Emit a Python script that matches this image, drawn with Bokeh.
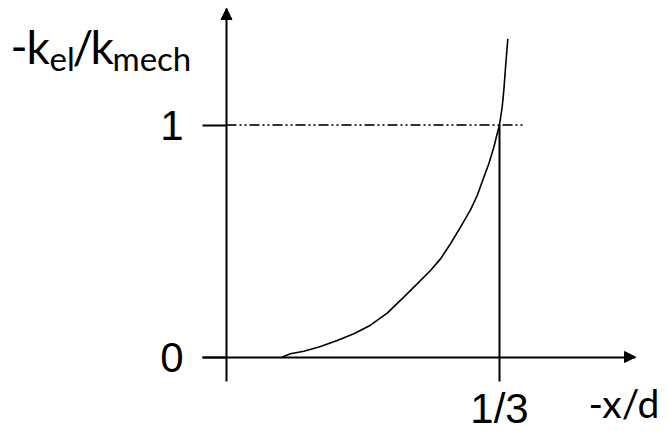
from bokeh.plotting import figure
from bokeh.models import (Range1d, LinearAxis, FixedTicker, Label, Arrow,
                          NormalHead, ColumnDataSource)
from bokeh.embed import file_html
from bokeh.resources import INLINE

# Normalised displacement -x/d and stiffness ratio -k_el/k_mech along the curve
x_over_d = [0.0680, 0.0781, 0.0944, 0.1148, 0.1351, 0.1555, 0.1758, 0.1962,
            0.2165, 0.2328, 0.2491, 0.2613, 0.2735, 0.2857, 0.2979, 0.3061,
            0.3142, 0.3203, 0.3264, 0.3305, 1 / 3, 0.3366, 0.3386, 0.3407,
            0.3435]
k_ratio = [0.0, 0.0137, 0.0251, 0.0453, 0.0711, 0.0999, 0.137, 0.189,
           0.258, 0.315, 0.373, 0.423, 0.488, 0.560, 0.634, 0.696,
           0.775, 0.833, 0.904, 0.962, 1.0, 1.077, 1.149, 1.249,
           1.371]

# Tick positions and their labels
x_ticks = [0, 1 / 3]
x_tick_labels = ["", "1/3"]
y_ticks = [0, 1]
y_tick_labels = ["0", "1"]

# Pull-in point: stiffness ratio reaches 1 at -x/d = 1/3
pull_in_x = 1 / 3
pull_in_y = 1.0

W, H = 667, 431
p = figure(width=W, height=H,
           x_range=Range1d(-0.27595, 0.53846),
           y_range=Range1d(-0.32112, 1.53664),
           x_axis_type=None, y_axis_type=None,
           output_backend="svg", toolbar_location=None,
           min_border=0, outline_line_color=None,
           background_fill_color="white", border_fill_color="white")

x_tip = 0.4994
y_tip = 1.5022

xaxis = LinearAxis(fixed_location=0,
                   ticker=FixedTicker(ticks=x_ticks, minor_ticks=[]),
                   major_label_overrides=dict(zip(x_ticks, x_tick_labels)),
                   bounds=(-0.0293, x_tip),
                   axis_line_width=2, axis_line_color="black",
                   major_tick_line_width=2, major_tick_line_color="black",
                   major_tick_in=0, major_tick_out=24,
                   minor_tick_in=0, minor_tick_out=0,
                   major_label_text_font="Liberation Sans",
                   major_label_text_font_size="42px",
                   major_label_text_color="black",
                   major_label_standoff=4)
p.add_layout(xaxis, "below")

yaxis = LinearAxis(fixed_location=0,
                   ticker=FixedTicker(ticks=y_ticks, minor_ticks=[]),
                   major_label_overrides=dict(zip(y_ticks, y_tick_labels)),
                   bounds=(0, y_tip),
                   axis_line_width=2, axis_line_color="black",
                   major_tick_line_width=2, major_tick_line_color="black",
                   major_tick_in=0, major_tick_out=24,
                   minor_tick_in=0, minor_tick_out=0,
                   major_label_text_font="Liberation Sans",
                   major_label_text_font_size="42px",
                   major_label_text_color="black",
                   major_label_standoff=19)
p.add_layout(yaxis, "left")

# Arrow heads at the axis ends
p.add_layout(Arrow(end=NormalHead(size=11, fill_color="black", line_color="black"),
                   x_start=x_tip - 0.01, y_start=0, x_end=x_tip, y_end=0,
                   line_width=2, line_color="black"))
p.add_layout(Arrow(end=NormalHead(size=11, fill_color="black", line_color="black"),
                   x_start=0, y_start=y_tip - 0.04, x_end=0, y_end=y_tip,
                   line_width=2, line_color="black"))

# Threshold line at ratio 1 and the marker at -x/d = 1/3
p.line(x=[0, 0.3614], y=[pull_in_y, pull_in_y], line_color="#333333",
       line_width=2, line_dash="10 3 2 3 2 3")
p.line(x=[pull_in_x, pull_in_x], y=[0, pull_in_y], line_color="black",
       line_width=2)

# Stiffness ratio curve
src = ColumnDataSource(dict(x=x_over_d, y=k_ratio))
p.line("x", "y", source=src, line_color="black", line_width=1.6)

# Axis titles, built from pieces so the subscripts sit lower and smaller
title_font = "Lato"
MAIN, SUB = 46, 33


def place(txt, x, baseline_from_top, size):
    # the label anchor sits about 0.387 em above the glyph baseline
    y = H - (baseline_from_top - 0.387 * size)
    p.add_layout(Label(x=x, y=y, x_units="screen", y_units="screen",
                       text=txt, text_font=title_font,
                       text_font_size=f"{size}px", text_color="black",
                       text_baseline="alphabetic", text_align="left"))


place("-", 10, 64, MAIN)
place("k", 26, 64, MAIN)
place("el", 49, 70, SUB)
place("/", 72, 64, MAIN)
place("k", 90, 64, MAIN)
place("mech", 112, 70, SUB)
place("-x/d", 588, 418, 39)

open("out.html", "w").write(file_html(p, INLINE))
